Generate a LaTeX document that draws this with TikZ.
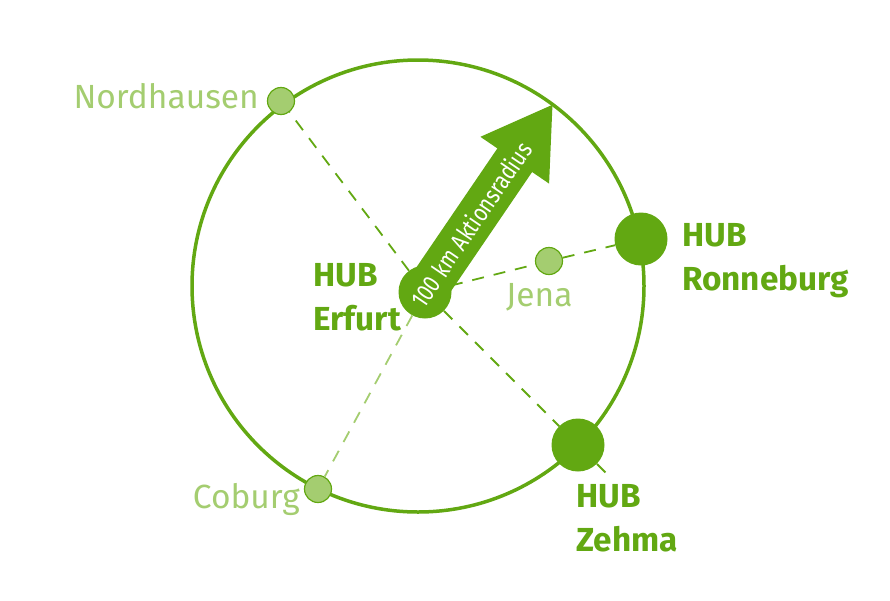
\documentclass[tikz,border=0pt]{standalone}
\usepackage{fontspec}
\setmainfont{Fira Sans}
\usetikzlibrary{arrows.meta,positioning}
\definecolor{hubgreen}{HTML}{62A812}
\definecolor{citygreen}{HTML}{A4CD70}
\tikzset{
  hub/.style={circle,fill=hubgreen,minimum size=53pt,inner sep=0pt},
  city/.style={circle,fill=citygreen,draw=hubgreen,line width=1.2pt,minimum size=27pt,inner sep=0pt},
  hublabel/.style={text=hubgreen,font=\bfseries\fontsize{33.3}{44}\selectfont,align=left,inner sep=0pt},
  citylabel/.style={text=citygreen,font=\fontsize{33.5}{44}\selectfont,inner sep=0pt},
  link/.style={hubgreen,line width=1.8pt,dash pattern=on 12pt off 10pt},
}
\begin{document}
\begin{tikzpicture}[x=1pt,y=-1pt]
  \useasboundingbox (0,0) rectangle (890,600);
  % radius around Erfurt
  \draw[hubgreen,line width=3.5pt] (418,286) circle (226);
  % places
  \node[hub] (erfurt) at (425,292) {};
  \node[hub] (ronneburg) at (641,239) {};
  \node[hub] (zehma) at (578,445) {};
  \node[city] (jena) at (549,261) {};
  \node[city] (nordhausen) at (281,101) {};
  \node[city] (coburg) at (318,489) {};
  \coordinate (zehmaend) at (607,474);
  \coordinate (tip) at (553,104);
  % links
  \draw[link] (erfurt) -- (nordhausen);
  \draw[link,citygreen] (erfurt) -- (coburg);
  \draw[link] (erfurt) -- (jena) -- (ronneburg);
  \draw[link] (erfurt) -- (zehma);
  \draw[link] (zehma) -- (zehmaend);
  % arrow
  \draw[hubgreen,line width=42pt,-{Triangle[length=68pt,width=78pt]}] (erfurt.center) -- (tip)
    node[pos=0.36,sloped,text=white,font=\fontsize{25}{25}\selectfont] (radius) {\scalebox{0.8}[1]{100 km Aktionsradius}};
  % labels
  \node[hublabel,anchor=north west] (erfurtlabel) at (313,263) {HUB\\Erfurt};
  \node[hublabel,anchor=north west] (ronneburglabel) at (682,223) {HUB\\Ronneburg};
  \node[hublabel,anchor=north west] (zehmalabel) at (576,484) {HUB\\Zehma};
  \node[citylabel,anchor=base west] (jenalabel) at (506,306) {Jena};
  \node[citylabel,anchor=base east] (nordhausenlabel) at (259,108) {Nordhausen};
  \node[citylabel,anchor=base east] (coburglabel) at (300,508) {Coburg};
\end{tikzpicture}
\end{document}
